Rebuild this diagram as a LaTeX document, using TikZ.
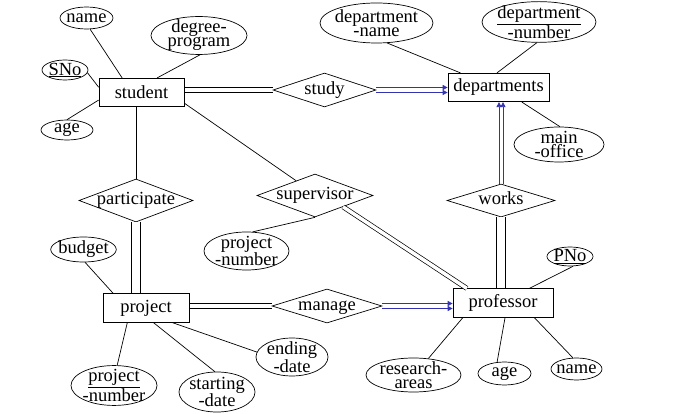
\documentclass[tikz,border=0pt]{standalone}
\usepackage{fontspec}
\setmainfont{Liberation Serif}
\usetikzlibrary{shapes.geometric,arrows.meta}
\definecolor{linkblue}{RGB}{51,51,178}

\tikzset{
  entity/.style={draw, rectangle, minimum height=28.5pt, inner sep=0pt},
  relation/.style={draw, diamond, aspect=3, inner sep=0pt, text height=9pt, text depth=0pt},
  attr/.style={draw, ellipse, inner sep=-2pt, align=center},
  link/.style={draw, line width=0.7pt},
  dlink/.style={draw, line width=0.7pt, double, double distance=3.5pt},
  wlink/.style={draw, line width=0.7pt, double, double distance=8pt},
  tolink/.style={draw=linkblue, line width=0.7pt, -{Triangle[length=5pt,width=5pt]}}
}

\begin{document}
\begin{tikzpicture}[x=1pt,y=-1pt,line width=0.7pt,font=\fontsize{18.5}{14}\selectfont]
  \useasboundingbox (0,0) rectangle (689,414);

  % entities
  \node[entity, minimum width=85pt] (student) at (141.5,92.5) {student};
  \node[entity, minimum width=101pt] (departments) at (498.5,87.5) {departments};
  \node[entity, minimum width=86pt] (project) at (146,308) {project};
  \node[entity, minimum width=100pt] (professor) at (503,303) {professor};

  % relations
  \node[relation, minimum width=103pt, minimum height=34pt] (study) at (324.5,90) {study};
  \node[relation, minimum width=114pt, minimum height=43pt] (participate) at (136,200.5) {participate};
  \node[relation, minimum width=116pt, minimum height=43pt] (supervisor) at (315,195.5) {supervisor};
  \node[relation, minimum width=108pt, minimum height=33pt] (works) at (501,200.5) {works};
  \node[relation, minimum width=110pt, minimum height=34pt] (manage) at (327,306) {manage};

  % attributes
  \node[attr, minimum width=53pt, minimum height=22pt] (sname) at (86.5,18) {name};
  \node[attr, minimum width=96pt, minimum height=35pt] (sdegree) at (199,35.5) {degree-\\program};
  \node[attr, minimum width=46pt, minimum height=20pt] (sno) at (65,70) {\underline{SNo}};
  \node[attr, minimum width=52pt, minimum height=20pt] (sage) at (67,130) {age};
  \node[attr, minimum width=113pt, minimum height=40pt] (dname) at (376.5,23) {department\\-name};
  \node[attr, minimum width=114pt, minimum height=38pt] (dnumber) at (539,22) {\underline{department}\\-number};
  \node[attr, minimum width=90pt, minimum height=35pt] (doffice) at (559,144.5) {main\\-office};
  \node[attr, minimum width=85pt, minimum height=38pt] (supnumber) at (246.5,251) {project\\-number};
  \node[attr, minimum width=63pt, minimum height=25pt] (pbudget) at (83.5,249.5) {budget};
  \node[attr, minimum width=86pt, minimum height=37pt] (pnumber) at (114,385.5) {\underline{project}\\-number};
  \node[attr, minimum width=76pt, minimum height=40pt] (pstart) at (217,392) {starting\\-date};
  \node[attr, minimum width=72pt, minimum height=34pt] (pend) at (292,357) {ending\\-date};
  \node[attr, minimum width=46pt, minimum height=19pt] (pno) at (570,256.5) {\underline{PNo}};
  \node[attr, minimum width=95pt, minimum height=34pt] (fareas) at (413.5,375) {research-\\areas};
  \node[attr, minimum width=53pt, minimum height=23pt] (fage) at (504.5,373.5) {age};
  \node[attr, minimum width=51pt, minimum height=22pt] (fname) at (576.5,369) {name};

  % attribute lines
  \draw[link] (student.143) -- (sname.-72);
  \draw[link] (student.43) -- (sdegree.-87);
  \draw[link] (student.173) -- (sno.-7);
  \draw[link] (student.190) -- (sage.north);
  \draw[link] (departments.159) -- (dname.-62);
  \draw[link] (departments.96) -- (dnumber.-96);
  \draw[link] (departments.-32) -- (doffice.87);
  \draw[link] (supervisor.south) -- (supnumber.72);
  \draw[link] (project.156) -- (pbudget.-83);
  \draw[link] (project.218) -- (pnumber.81);
  \draw[link] (project.-63) -- (pstart.96);
  \draw[link] (project.-29) -- (pend.172);
  \draw[link] (professor.29) -- (pno.-72);
  \draw[link] (professor.200) -- (fareas.48);
  \draw[link] (professor.-82) -- (fage.123);
  \draw[link] (professor.-25) -- (fname.108);

  % relationship lines
  \draw[link, transform canvas={yshift=2.5pt}] (study.west -| student.east) -- (study.west);
  \draw[link, transform canvas={yshift=-2.5pt}] (study.west -| student.east) -- (study.west);
  \draw[link] (participate.north) -- (participate.north |- student.south);
  \draw[wlink] (participate.south) -- (participate.south |- project.north);
  \draw[link] (student.-14) -- (supervisor.142);
  \draw[dlink] (supervisor.-22) -- (professor.158);
  \draw[wlink] (works.south) -- (works.south |- professor.north);
  \draw[link, transform canvas={yshift=2.5pt}] (manage.west -| project.east) -- (manage.west);
  \draw[link, transform canvas={yshift=-2.5pt}] (manage.west -| project.east) -- (manage.west);

  \draw[tolink, transform canvas={yshift=2.5pt}] (study.east) -- (study.east -| departments.west);
  \draw[tolink, transform canvas={yshift=-2.5pt}] (study.east) -- (study.east -| departments.west);
  \draw[tolink, transform canvas={xshift=-2pt}] (works.north) -- (works.north |- departments.south);
  \draw[tolink, transform canvas={xshift=2pt}] (works.north) -- (works.north |- departments.south);
  \draw[tolink, transform canvas={yshift=2.5pt}] (manage.east) -- (manage.east -| professor.west);
  \draw[tolink, transform canvas={yshift=-2.5pt}] (manage.east) -- (manage.east -| professor.west);
\end{tikzpicture}
\end{document}
